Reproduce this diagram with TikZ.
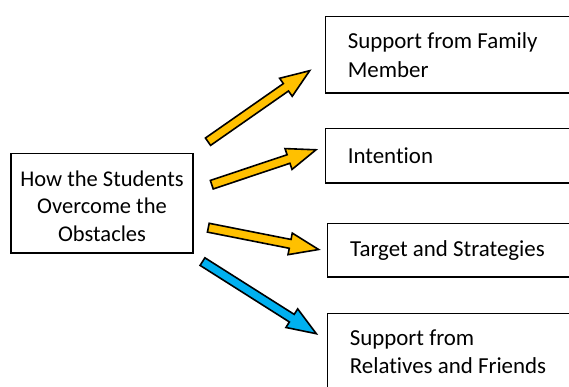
\documentclass[tikz,border=0pt]{standalone}
\usepackage{fontspec}
\setmainfont{Carlito}[Ligatures=NoCommon]
\usetikzlibrary{calc}
\definecolor{gold}{HTML}{FFC000}
\definecolor{skyblue}{HTML}{00B0F0}
\tikzset{
  frame/.style={draw=black, line width=1.6pt, fill=white},
  lbox/.style={frame, minimum width=182.4pt, minimum height=99.7pt, align=center,
    inner sep=0pt, font=\fontsize{22.5}{27.8}\selectfont},
  rbox/.style={frame, anchor=north west, minimum width=252pt, minimum height=#1,
    text width=207.6pt, inner xsep=22.2pt, inner ysep=0pt, align=flush left,
    font=\fontsize{22.9}{28.8}\selectfont},
  blockarrow/.style={draw=black, line width=1.6pt, line join=miter},
}
\newcommand\blockarrow[3]{%
  \coordinate (#1-n) at ($(#2)!29pt!(#1)$);
  \draw[blockarrow, fill=#3]
    ($(#1)!4.5pt!90:(#2)$) -- ($(#1-n)!4.5pt!90:(#2)$) -- ($(#1-n)!11pt!90:(#2)$)
    -- (#2) -- ($(#1-n)!11pt!-90:(#2)$) -- ($(#1-n)!4.5pt!-90:(#2)$)
    -- ($(#1)!4.5pt!-90:(#2)$) -- cycle;
}
\begin{document}
\begin{tikzpicture}[x=1pt, y=-1pt]
  \useasboundingbox (0,0) rectangle (569,387);
  \clip (0,0) rectangle (569,387);
  % left box
  \node[lbox] (L) at (102,203.4) {\rule{0pt}{21pt}How the Students\\Overcome the\\Obstacles};
  % right boxes
  \node[rbox=76.4pt] (B1) at (324.8,15.8) {Support from Family\\Member};
  \node[rbox=54.4pt] (B2) at (324.8,127.8) {Intention};
  \node[rbox=53.4pt, inner xsep=22.6pt, text width=206.8pt] (B3) at (326.8,222.8) {Target and Strategies};
  \node[rbox=76.4pt] (B4) at (326.8,312.8) {Support from\\Relatives and Friends};
  % arrows
  \coordinate (t1) at (208,141.7);   \coordinate (h1) at (309.7,70.7);
  \coordinate (t2) at (211.8,184.7); \coordinate (h2) at (316,149.8);
  \coordinate (t3) at (208.3,227.7); \coordinate (h3) at (318.6,249.5);
  \coordinate (t4) at (202.5,261.6); \coordinate (h4) at (316.3,333.7);
  \blockarrow{t1}{h1}{gold}
  \blockarrow{t2}{h2}{gold}
  \blockarrow{t3}{h3}{gold}
  \blockarrow{t4}{h4}{skyblue}
\end{tikzpicture}
\end{document}
